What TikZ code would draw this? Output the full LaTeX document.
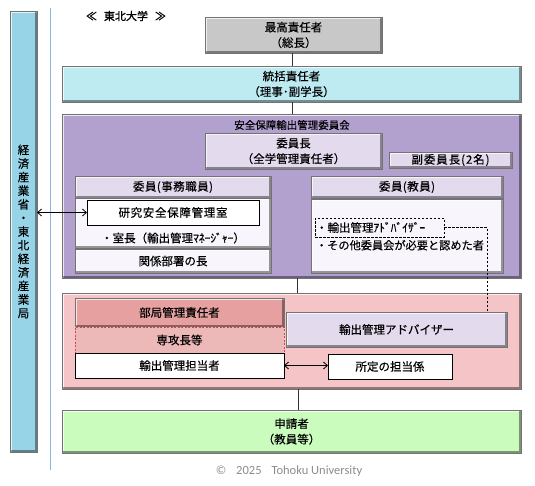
\documentclass[tikz,border=0pt]{standalone}
\usepackage{fontspec}
\setmainfont{Noto Sans CJK JP}[FakeBold=0.35]
\newfontfamily\boldjp{Noto Sans CJK JP}[FakeBold=1.2]
\newfontfamily\latinfont{Carlito}
\usetikzlibrary{arrows.meta,calc}
\definecolor{cgray}{RGB}{200,200,200}
\definecolor{ccyan}{RGB}{190,234,242}
\definecolor{cbar}{RGB}{152,212,232}
\definecolor{cpurple}{RGB}{178,160,206}
\definecolor{clav}{RGB}{228,218,238}
\definecolor{cwhite}{RGB}{248,246,252}
\definecolor{cpink}{RGB}{244,196,198}
\definecolor{cpinkd}{RGB}{230,160,160}
\definecolor{cpinkm}{RGB}{236,184,184}
\definecolor{cgreen}{RGB}{202,252,190}
\definecolor{cline}{RGB}{140,180,225}
\definecolor{cdash}{RGB}{190,80,80}
\begin{document}
\begin{tikzpicture}[x=1pt,y=-1pt,
  base/.style={anchor=north west, inner sep=0pt, outer sep=0pt, align=center,
    font=\fontsize{11.5}{15.5}\selectfont},
  bevel/.style={base, fill=#1, draw=black!55, line width=0.4pt,
    path picture={
      \draw[white, opacity=.75, line width=3pt]
        (path picture bounding box.south west) -- (path picture bounding box.north west)
        -- (path picture bounding box.north east);
      \draw[black, opacity=.4, line width=4pt]
        (path picture bounding box.north east) -- (path picture bounding box.south east)
        -- (path picture bounding box.south west);
    }},
  plainbox/.style={base, fill=white, draw=black, line width=0.8pt},
  conn/.style={draw=black!80, line width=0.7pt},
  arr/.style={draw=black, line width=0.8pt, {Straight Barb[length=4pt,width=7pt]}-{Straight Barb[length=4pt,width=7pt]}},
  dashconn/.style={draw=black, line width=0.8pt, dash pattern=on 2.5pt off 1.5pt}
]
\useasboundingbox (0,0) rectangle (535,485);

% left side bar and separator line
\node[bevel=cbar, minimum width=27pt, minimum height=441pt,
  font=\fontsize{11.5}{13.6}\selectfont] (bar) at (10,11)
  {経\\済\\産\\業\\省\\・\\東\\北\\経\\済\\産\\業\\局};
\coordinate (lt) at (50,8);
\coordinate (lb) at (50,470);
\draw[cline, line width=0.8pt] (lt) -- (lb);

% title
\node[font=\boldjp\fontsize{11}{12}\selectfont] (title) at (126,16) {≪\hspace{7pt}東北大学\hspace{7pt}≫};

% top levels
\node[bevel=cgray, minimum width=177pt, minimum height=36pt] (top) at (205,17) {最高責任者\\（総長）};
\node[bevel=ccyan, minimum width=459pt, minimum height=36pt] (tokatsu) at (62,66) {統括責任者\\（理事･副学長）};

% committee
\node[bevel=cpurple, minimum width=459pt, minimum height=164pt] (comm) at (62,114) {};
\node[font=\fontsize{10.5}{12}\selectfont] (commtitle) at (292,125) {安全保障輸出管理委員会};
\node[bevel=clav, minimum width=177pt, minimum height=36pt] (chair) at (205,133) {委員長\\（全学管理責任者）};
\node[bevel=clav, minimum width=123pt, minimum height=16pt,
  font=\addfontfeatures{LetterSpace=8}\fontsize{11.5}{13}\selectfont] (vice) at (389,152) {副委員長(2名)};

\node[bevel=clav, minimum width=196pt, minimum height=22pt,
  font=\addfontfeatures{LetterSpace=4}\fontsize{11.5}{13}\selectfont] (jimuh) at (75,176) {委員(事務職員)};
\node[bevel=cwhite, minimum width=196pt, minimum height=50pt] (jimub) at (75,198) {};
\node[plainbox, minimum width=172pt, minimum height=25pt, font=\addfontfeatures{LetterSpace=6}\fontsize{11.5}{13}\selectfont] (kenkyu) at (87,200) {研究安全保障管理室};
\node[font=\fontsize{11.5}{13}\selectfont] (shicho) at (173,238) {・室長（輸出管理ﾏﾈｰｼﾞｬｰ）};
\node[bevel=cwhite, minimum width=196pt, minimum height=24pt] (kankei) at (75,249) {関係部署の長};

\node[bevel=clav, minimum width=192pt, minimum height=22pt,
  font=\addfontfeatures{LetterSpace=4}\fontsize{11.5}{13}\selectfont] (kyoinh) at (311,176) {委員(教員)};
\node[bevel=cwhite, minimum width=192pt, minimum height=74pt] (kyoinb) at (311,199) {};
\node[base, draw=black, line width=0.8pt, dash pattern=on 2.5pt off 1.5pt,
  minimum width=129pt, minimum height=19pt, text width=127pt, align=left] (advd) at (315,218) {・輸出管理ｱﾄﾞﾊﾞｲｻﾞｰ};
\node[base, align=left, font=\fontsize{11.2}{13}\selectfont] (sonota) at (316,240) {・その他委員会が必要と認めた者};

% department level
\node[bevel=cpink, minimum width=459pt, minimum height=96pt] (pink) at (62,293) {};
\node[bevel=cpinkd, minimum width=209pt, minimum height=29pt] (bukyoku) at (75,298) {部局管理責任者};
\node[base, fill=cpinkm, draw=cdash, line width=0.7pt, dash pattern=on 2pt off 1.5pt,
  minimum width=209pt, minimum height=26pt] (senko) at (75,327) {専攻長等};
\node[plainbox, minimum width=209pt, minimum height=25pt] (tanto) at (75,353) {輸出管理担当者};
\node[bevel=clav, minimum width=221pt, minimum height=35pt] (adv) at (286,312) {輸出管理アドバイザー};
\node[plainbox, minimum width=124pt, minimum height=25pt] (shotei) at (328,354) {所定の担当係};

% applicants
\node[bevel=cgreen, minimum width=459pt, minimum height=43pt] (green) at (62,410) {申請者\\（教員等）};

% copyright
\node[text=black!45, font=\latinfont\fontsize{12.5}{14}\selectfont] (copy) at (289,471) {©\hspace{10pt}2025\hspace{10pt}Tohoku University};

% connectors
\coordinate (c1) at (292,53);
\draw[conn] (c1) -- (c1 |- tokatsu.north);
\coordinate (c2) at (292,102);
\draw[conn] (c2) -- (c2 |- comm.north);
\coordinate (c3) at (297,278);
\draw[conn] (c3) -- (c3 |- pink.north);
\coordinate (c4) at (298,389);
\draw[conn] (c4) -- (c4 |- green.north);

\draw[arr] (kenkyu.west) -- (bar.east |- kenkyu.west);
\draw[arr] (tanto.east) -- (shotei.west |- tanto.east);
\coordinate (dcorner) at (487,227.5);
\draw[dashconn] (advd.east) -- (dcorner) -- (dcorner |- adv.north);
\end{tikzpicture}
\end{document}
